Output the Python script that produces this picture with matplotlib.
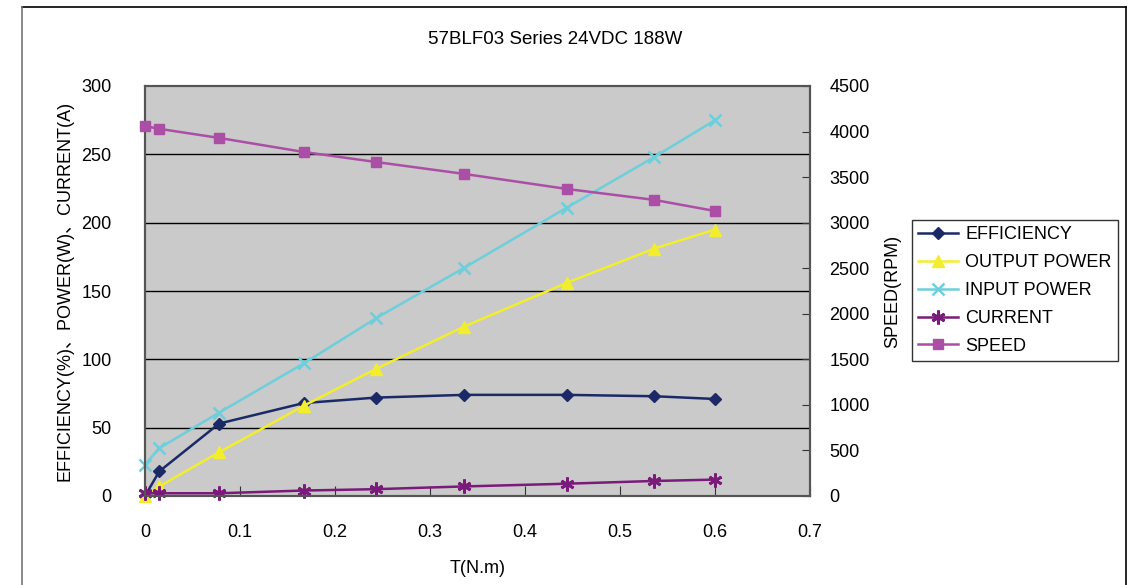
import matplotlib
matplotlib.use("Agg")
import matplotlib.pyplot as plt
from matplotlib.lines import Line2D

plt.rcParams['font.family'] = ['Liberation Sans', 'Noto Sans CJK SC', 'DejaVu Sans']

torque = [0, 0.015, 0.078, 0.167, 0.243, 0.336, 0.444, 0.536, 0.6]
efficiency = [0, 18, 53, 68, 72, 74, 74, 73, 71]
output_power = [0, 7, 32, 66, 93, 124, 156, 181, 195]
input_power = [23, 35, 61, 97, 130, 167, 211, 248, 275]
current = [2, 2, 2, 4, 5, 7, 9, 11, 12]
speed = [4060, 4030, 3930, 3776, 3666, 3535, 3370, 3250, 3128]

fs = 13

fig = plt.figure(figsize=(11.35, 5.85), dpi=100)
ax = fig.add_axes([145/1135, 1-496/585, 665/1135, 410/585])
ax.set_facecolor('#c9cac9')

for y in range(50, 300, 50):
    ax.axhline(y, color='black', lw=1, zorder=1)

l1, = ax.plot(torque, efficiency, color='#1b2a66', marker='D', ms=6, lw=1.8, label='EFFICIENCY', zorder=3, clip_on=False)
l2, = ax.plot(torque, output_power, color='#f2ee2e', marker='^', ms=8, lw=1.8, label='OUTPUT POWER', zorder=3, clip_on=False)
l3, = ax.plot(torque, input_power, color='#6dcfdc', marker='x', ms=9, mew=1.8, lw=1.8, label='INPUT POWER', zorder=3, clip_on=False)
l4, = ax.plot(torque, current, color='#7a1a7a', marker=(6, 2, 0), ms=10, mew=2, lw=1.8, label='CURRENT', zorder=3, clip_on=False)

ax2 = ax.twinx()
l5, = ax2.plot(torque, speed, color='#ab4fa6', marker='s', ms=7, lw=1.8, label='SPEED', zorder=3, clip_on=False)

ax.set_xlim(0, 0.7)
ax.set_ylim(0, 300)
ax2.set_ylim(0, 4500)
ax.set_xticks([0, 0.1, 0.2, 0.3, 0.4, 0.5, 0.6, 0.7])
ax.set_xticklabels(['0', '0.1', '0.2', '0.3', '0.4', '0.5', '0.6', '0.7'])
ax.set_yticks(range(0, 301, 50))
ax2.set_yticks(range(0, 4501, 500))

for a in (ax, ax2):
    for s in a.spines.values():
        s.set_color('#555555')
        s.set_linewidth(1.5)
ax.tick_params(axis='x', direction='in', length=7, pad=20, labelsize=fs, color='#333333')
ax.tick_params(axis='y', direction='in', length=0, pad=24, labelsize=fs)
ax2.tick_params(axis='y', direction='in', length=6, pad=14, labelsize=fs, color='#333333')

ax.set_xlabel('T(N.m)', fontsize=fs, labelpad=14)
ax.set_ylabel('EFFICIENCY(%)、POWER(W)、CURRENT(A)', fontsize=fs, labelpad=6)
ax2.set_ylabel('SPEED(RPM)', fontsize=fs, labelpad=10)

fig.text(555/1135, 1-40/585, '57BLF03 Series 24VDC 188W', ha='center', va='center', fontsize=13.5)

leg = fig.legend(handles=[l1, l2, l3, l4, l5], loc='upper left',
                 bbox_to_anchor=(912/1135, 1-220/585), fontsize=fs,
                 frameon=True, fancybox=False, borderpad=0.35, labelspacing=0.6,
                 handlelength=2.2, handletextpad=0.4, borderaxespad=0)
leg.get_frame().set_edgecolor('black')
leg.get_frame().set_linewidth(1)

# outer frame
fig.add_artist(Line2D([22/1135, 1126/1135], [1-7/585, 1-7/585], color='black', lw=1.2, transform=fig.transFigure))
fig.add_artist(Line2D([22/1135, 22/1135], [0, 1-7/585], color='#777777', lw=1.2, transform=fig.transFigure))
fig.add_artist(Line2D([1126/1135, 1126/1135], [0, 1-7/585], color='black', lw=1.2, transform=fig.transFigure))

fig.savefig('out.png', dpi=100)
